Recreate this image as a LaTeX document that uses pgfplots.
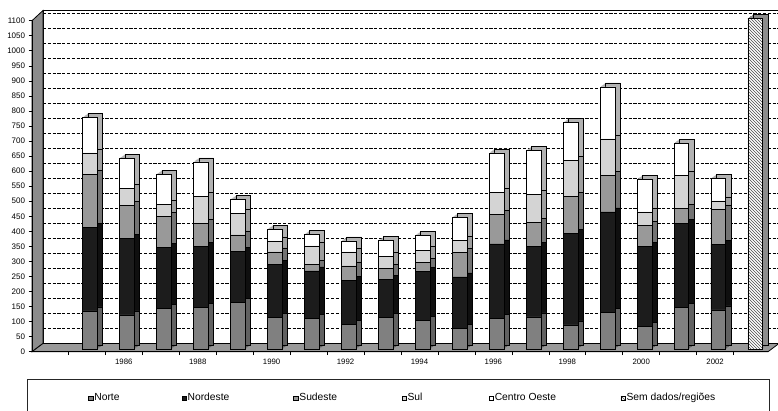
\documentclass[border=0pt]{standalone}
\usepackage{fontspec}
\setmainfont{Liberation Sans}
\usepackage{pgfplots}
\usepackage{pgfplotstable}
\pgfplotsset{compat=1.18}
\usetikzlibrary{patterns}

\pgfplotstableread{
i norte nordeste sudeste sul centro sem
0 128 277 176 72 118 0
1 114 255 110 56 100 0
2 136 202 103 41 100 0
3 140 201 78 88 116 0
4 156 169 55 72 46 0
5 106 177 41 36 39 0
6 102 159 22 61 38 0
7 83 145 49 47 36 0
8 106 127 36 41 51 0
9 96 163 29 40 51 0
10 70 171 81 39 77 0
11 102 248 98 73 132 0
12 108 233 81 94 144 0
13 81 304 124 120 124 0
14 123 334 122 120 173 0
15 77 266 70 44 108 0
16 140 279 50 108 108 0
17 131 218 117 27 75 0
18 0 0 0 0 0 1100
}\dados

\definecolor{norteF}{gray}{0.50}
\definecolor{norteS}{gray}{0.38}
\definecolor{nordF}{gray}{0.11}
\definecolor{nordS}{gray}{0.06}
\definecolor{sudF}{gray}{0.60}
\definecolor{sudS}{gray}{0.45}
\definecolor{sulF}{gray}{0.83}
\definecolor{sulS}{gray}{0.62}
\definecolor{coF}{gray}{1.00}
\definecolor{coS}{gray}{0.70}
\definecolor{semS}{gray}{0.55}

\pgfplotsset{
  barframe/.style={x=36.96pt, y=0.3009pt, xmin=-1.483, xmax=18.43,
    ymin=0, ymax=1100, anchor=south west, hide axis, clip=false,
    ybar stacked, bar width=14.7pt,
    every axis plot/.append style={draw=black, line width=0.5pt}},
}

% a copy of the bars in the side shades, shifted into depth
\newcommand\depthcopy[3]{%
\begin{axis}[barframe, at={(#1,#2)}, every axis plot/.append style={#3}]
\addplot[fill=norteS] table[x=i,y=norte]{\dados};
\addplot[fill=nordS] table[x=i,y=nordeste]{\dados};
\addplot[fill=sudS] table[x=i,y=sudeste]{\dados};
\addplot[fill=sulS] table[x=i,y=sul]{\dados};
\addplot[fill=coS] table[x=i,y=centro]{\dados};
\addplot[fill=semS] table[x=i,y=sem]{\dados};
\end{axis}}

\begin{document}
\begin{tikzpicture}
% back wall with dashed gridlines
\begin{axis}[at={(43pt,67.5pt)}, anchor=south west, x=36.96pt, y=0.3pt,
  xmin=-1.483, xmax=18.43, ymin=0, ymax=1110,
  xtick=\empty, ytick={50,100,...,1100}, yticklabels={},
  major tick length=0pt, ymajorgrids,
  grid style={black, line width=1.2pt, dash pattern=on 3.2pt off 1.6pt},
  axis line style={black, line width=0.8pt},
  axis background/.style={fill=white}]
\end{axis}
% left wall and floor
\filldraw[fill=black!45, draw=black, line width=0.8pt]
  (32pt,59.3pt) -- (32pt,390.3pt) -- (43pt,400.5pt) -- (43pt,67.5pt) -- cycle;
\filldraw[fill=black!40, draw=black, line width=0.8pt]
  (32pt,59.3pt) -- (768pt,59.3pt) -- (779pt,67.5pt) -- (43pt,67.5pt) -- cycle;
% depth (side and top faces) of the bars
\depthcopy{36.3pt}{62.7pt}{draw=none}
\depthcopy{37.4pt}{63.5pt}{draw=none}
\depthcopy{38.4pt}{64.2pt}{draw=none}
\depthcopy{39.5pt}{65.0pt}{draw=none}
\depthcopy{40.5pt}{65.7pt}{draw=black}
% front faces of the bars
\begin{axis}[barframe, at={(35.2pt,61.7pt)},
  legend columns=6,
  legend style={at={(axis description cs:0.07215,-0.1598)}, anchor=south west,
    draw=none, fill=none, inner sep=0pt, column sep=0pt,
    font=\fontsize{10.3}{12}\selectfont, cells={anchor=base west},
    nodes={inner sep=0pt}},
  legend image code/.code={\draw[#1,draw=black,line width=0.5pt] (0pt,0pt) rectangle (4.2pt,4.3pt);}]
\addplot[fill=norteF] table[x=i,y=norte]{\dados};
\addlegendentry{\makebox[88.5pt][l]{\hspace{1.2pt}Norte}}
\addplot[fill=nordF] table[x=i,y=nordeste]{\dados};
\addlegendentry{\makebox[107.1pt][l]{\hspace{1.2pt}Nordeste}}
\addplot[fill=sudF] table[x=i,y=sudeste]{\dados};
\addlegendentry{\makebox[103.5pt][l]{\hspace{1.2pt}Sudeste}}
\addplot[fill=sulF] table[x=i,y=sul]{\dados};
\addlegendentry{\makebox[82.5pt][l]{\hspace{1.2pt}Sul}}
\addplot[fill=coF] table[x=i,y=centro]{\dados};
\addlegendentry{\makebox[127.1pt][l]{\hspace{1.2pt}Centro Oeste}}
\addplot[fill=white, postaction={pattern=north west lines, pattern color=black!70}] table[x=i,y=sem]{\dados};
\addlegendentry{\hspace{1.2pt}Sem dados/regiões}
\end{axis}
% front frame: y axis, ticks and labels
\begin{axis}[at={(32pt,59.3pt)}, anchor=south west, x=36.96pt, y=0.3009pt,
  xmin=-1.483, xmax=18.43, ymin=0, ymax=1100,
  axis lines*=left, tick align=outside, major tick length=3.4pt,
  axis line style={black, line width=0.8pt}, tick style={black, line width=0.6pt},
  xtick={-0.5,0.5,...,17.5},
  xticklabels={{},1986,{},1988,{},1990,{},1992,{},1994,{},1996,{},1998,{},2000,{},2002,{}},
  xticklabel style={xshift=18.48pt, font=\fontsize{7.8}{9}\selectfont},
  ytick={0,50,...,1100},
  yticklabel style={font=\fontsize{8}{9}\selectfont},
  /pgf/number format/assume math mode=true,
  /pgf/number format/1000 sep={},
  scaled y ticks=false]
\end{axis}
% legend frame
\draw[line width=0.9pt, black!85] (27.3pt,-10pt) rectangle (769pt,32pt);
\pgfresetboundingbox
\path[use as bounding box] (0,0) rectangle (778pt,411pt);
\end{tikzpicture}
\end{document}
